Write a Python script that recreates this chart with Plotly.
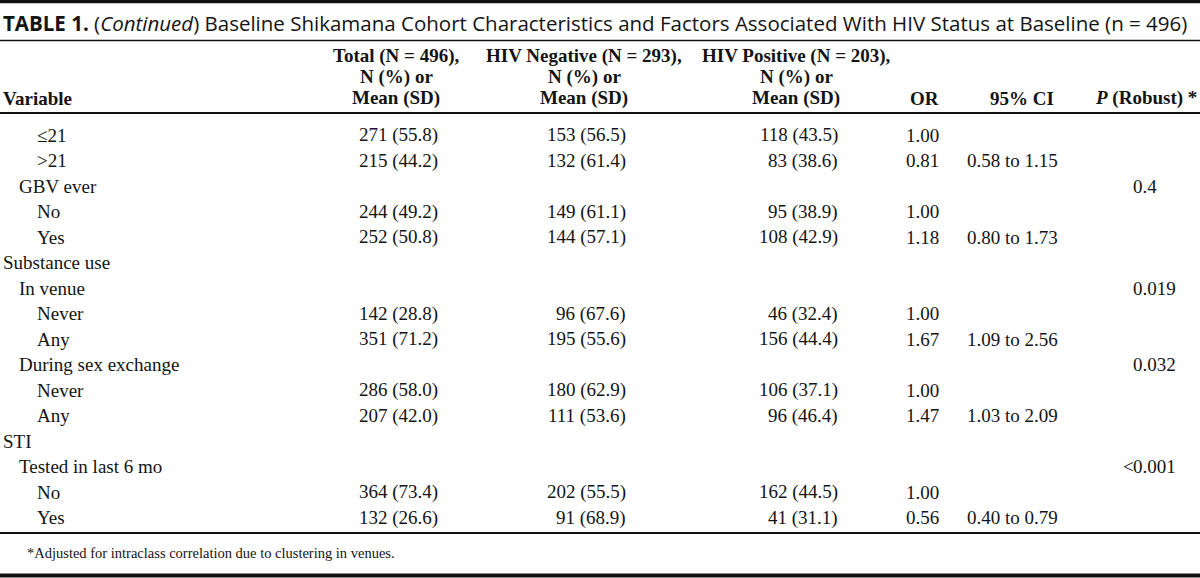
import plotly.graph_objects as go

# ---------------- data ----------------
variables = ["≤21", ">21", "GBV ever", "No", "Yes", "Substance use", "In venue", "Never", "Any",
             "During sex exchange", "Never", "Any", "STI", "Tested in last 6 mo", "No", "Yes"]
levels = [2, 2, 1, 2, 2, 0, 1, 2, 2, 1, 2, 2, 0, 1, 2, 2]

total_n = [271, 215, None, 244, 252, None, None, 142, 351, None, 286, 207, None, None, 364, 132]
total_pct = [55.8, 44.2, None, 49.2, 50.8, None, None, 28.8, 71.2, None, 58.0, 42.0, None, None, 73.4, 26.6]
neg_n = [153, 132, None, 149, 144, None, None, 96, 195, None, 180, 111, None, None, 202, 91]
neg_pct = [56.5, 61.4, None, 61.1, 57.1, None, None, 67.6, 55.6, None, 62.9, 53.6, None, None, 55.5, 68.9]
pos_n = [118, 83, None, 95, 108, None, None, 46, 156, None, 106, 96, None, None, 162, 41]
pos_pct = [43.5, 38.6, None, 38.9, 42.9, None, None, 32.4, 44.4, None, 37.1, 46.4, None, None, 44.5, 31.1]
odds_ratio = [1.00, 0.81, None, 1.00, 1.18, None, None, 1.00, 1.67, None, 1.00, 1.47, None, None, 1.00, 0.56]
ci_low = [None, 0.58, None, None, 0.80, None, None, None, 1.09, None, None, 1.03, None, None, None, 0.40]
ci_high = [None, 1.15, None, None, 1.73, None, None, None, 2.56, None, None, 2.09, None, None, None, 0.79]
p_robust = ["", "", "0.4", "", "", "", "0.019", "", "", "0.032", "", "", "", "<0.001", "", ""]

title_html = ("<b>TABLE 1.</b> (<i>Continued</i>) Baseline Shikamana Cohort Characteristics and "
              "Factors Associated With HIV Status at Baseline (n = 496)")
col_headers = [
    ["Total (N = 496),", "N (%) or", "Mean (SD)"],
    ["HIV Negative (N = 293),", "N (%) or", "Mean (SD)"],
    ["HIV Positive (N = 203),", "N (%) or", "Mean (SD)"],
]
footnote = "*Adjusted for intraclass correlation due to clustering in venues."

# ---------------- layout constants ----------------
W, H = 1200, 578
SERIF = "Liberation Serif, Times New Roman, serif"
SANS = "Open Sans, Noto Sans, sans-serif"
INK = "#141414"
FS = 19

row0, row_step = 135, 25.5
indent_x = [3, 19, 37]
col_right = [438, 626, 838]          # right edge of N (%) columns
or_right = 939
ci_left = 967
ci_center = 1012
p_dec = 1133                          # left edge of P value digits

fig = go.Figure()
ann = []

def add(text, x, y, anchor="left", size=FS, family=SERIF, color=INK, xshift=0):
    ann.append(dict(text=text, x=x, y=y, xref="x", yref="y", xanchor=anchor, yanchor="middle",
                    showarrow=False, borderpad=0, borderwidth=0, xshift=xshift,
                    font=dict(family=family, size=size, color=color)))

# title
add(title_html, 3, 23, family=SANS, size=20.5)

# header
hdr_y = [56, 77, 98]
add("<b>Variable</b>", 3, hdr_y[2])
for ci, lines in enumerate(col_headers):
    cx = col_right[ci] - 42
    for li, t in enumerate(lines):
        add("<b>%s</b>" % t, cx, hdr_y[li], anchor="center")
add("<b>OR</b>", or_right, hdr_y[2], anchor="right")
add("<b>95% CI</b>", ci_center + 10, hdr_y[2], anchor="center")
add("<b><i>P</i> (Robust) *</b>", 1197, hdr_y[2], anchor="right")

# body
for i, v in enumerate(variables):
    y = row0 + row_step * i
    add(v, indent_x[levels[i]], y)
    for ci, (ns, ps) in enumerate([(total_n, total_pct), (neg_n, neg_pct), (pos_n, pos_pct)]):
        if ns[i] is not None:
            add("%d (%.1f)" % (ns[i], ps[i]), col_right[ci], y, anchor="right")
    if odds_ratio[i] is not None:
        add("%.2f" % odds_ratio[i], or_right, y, anchor="right")
    if ci_low[i] is not None:
        add("%.2f to %.2f" % (ci_low[i], ci_high[i]), ci_left, y)
    p = p_robust[i]
    if p:
        k = 0
        while k < len(p) and not p[k].isdigit():
            k += 1
        if k:
            add(p[:k], p_dec, y, anchor="right", xshift=1)
        add(p[k:], p_dec, y, anchor="left")

# footnote
add(footnote, 27, 553, size=14.5)

# rules
shapes = []
def hline(y, w):
    shapes.append(dict(type="line", xref="x", yref="y", x0=0, x1=W, y0=y, y1=y,
                       line=dict(color="#111111", width=w)))
hline(1.5, 3.5)
hline(40.5, 1.5)
hline(113, 2)
hline(533, 2)
hline(575.5, 4)

fig.update_layout(
    width=W, height=H,
    margin=dict(l=0, r=0, t=0, b=0),
    paper_bgcolor="white", plot_bgcolor="white",
    xaxis=dict(range=[0, W], visible=False, fixedrange=True),
    yaxis=dict(range=[H, 0], visible=False, fixedrange=True),
    annotations=ann, shapes=shapes, showlegend=False,
)
fig.write_html("out.html", config={"displayModeBar": False},
               post_script="document.body.style.margin='0';document.body.style.overflow='hidden';")
